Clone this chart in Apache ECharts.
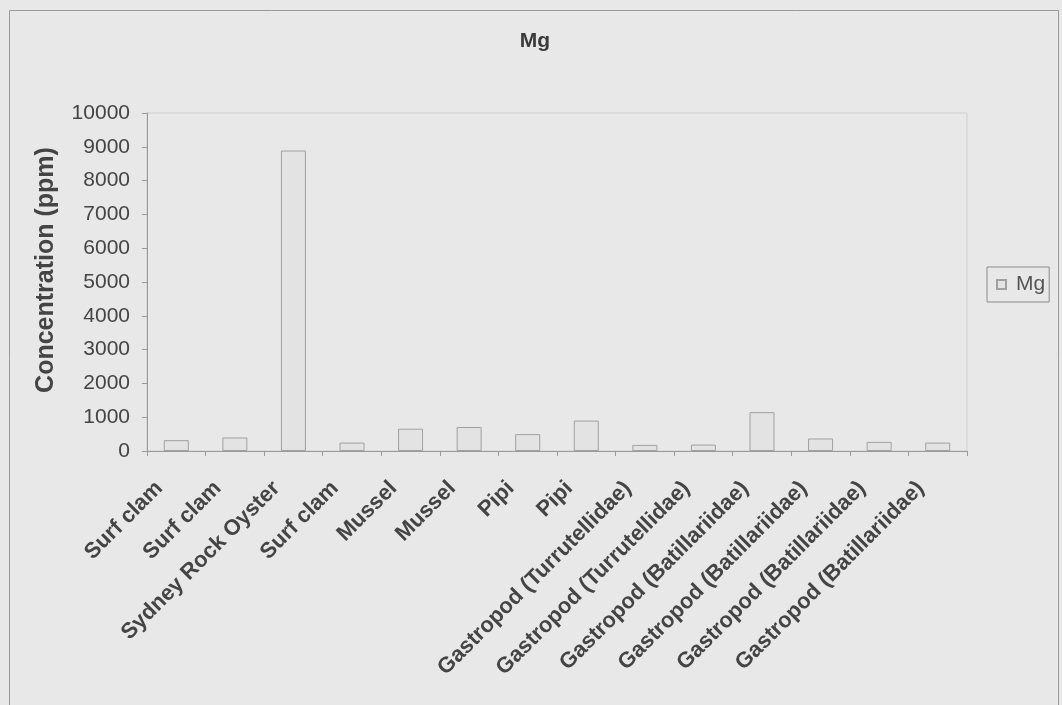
<!DOCTYPE html>
<html>
<head>
<meta charset="utf-8">
<script src="https://cdn.jsdelivr.net/npm/echarts@6/dist/echarts.min.js"></script>
<style>
  html, body { margin: 0; padding: 0; background: #e8e8e8; }
  #chart { width: 1062px; height: 705px; }
</style>
</head>
<body>
<div id="chart"></div>
<script>
// Shell species sampled
const categories = [
  'Surf clam', 'Surf clam', 'Sydney Rock Oyster', 'Surf clam',
  'Mussel', 'Mussel', 'Pipi', 'Pipi',
  'Gastropod (Turrutellidae)', 'Gastropod (Turrutellidae)',
  'Gastropod (Batillariidae)', 'Gastropod (Batillariidae)',
  'Gastropod (Batillariidae)', 'Gastropod (Batillariidae)'
];
// Magnesium concentration, ppm
const mgValues = [320, 400, 8890, 250, 660, 710, 500, 900, 180, 190, 1150, 370, 270, 250];
const seriesName = 'Mg';
const yMin = 0, yMax = 10000, yStep = 1000;

const font = 'Liberation Sans, Arial, sans-serif';
const chart = echarts.init(document.getElementById('chart'), null, { renderer: 'canvas' });

chart.setOption({
  backgroundColor: '#e8e8e8',
  animation: false,
  title: {
    text: 'Mg',
    left: 530, top: 26, textAlign: 'center',
    textStyle: { fontFamily: font, fontSize: 21, fontWeight: 'bold', color: '#3a3a3a' }
  },
  graphic: [
    {
      type: 'rect', left: 7, top: 8, z: -1,
      shape: { width: 1049, height: 705 },
      style: { fill: 'none', stroke: '#9a9a9a', lineWidth: 1 }
    }
  ],
  legend: {
    data: [seriesName],
    left: 987, top: 267,
    padding: [7, 4, 7, 9],
    itemWidth: 9, itemHeight: 9,
    borderColor: '#8a8a8a', borderWidth: 1,
    icon: 'rect',
    textStyle: { fontFamily: font, fontSize: 21, color: '#555', padding: [0, 0, 0, 5] }
  },
  grid: {
    left: 147, right: 95, top: 113, bottom: 254,
    show: true, borderColor: '#cfcfcf', borderWidth: 1, backgroundColor: 'transparent'
  },
  xAxis: {
    type: 'category',
    data: categories,
    axisLine: { lineStyle: { color: '#9a9a9a' } },
    axisTick: { show: true, alignWithLabel: false, length: 5, lineStyle: { color: '#9a9a9a' } },
    axisLabel: {
      rotate: 45, interval: 0, margin: 17,
      padding: [0, 24, 0, 0],
      fontFamily: font, fontSize: 22, fontWeight: 'bold', color: '#444'
    }
  },
  yAxis: {
    type: 'value',
    min: yMin, max: yMax, interval: yStep,
    name: 'Concentration (ppm)',
    nameLocation: 'middle', nameGap: 88,
    nameTextStyle: {
      fontFamily: font, fontSize: 25, fontWeight: 'bold', color: '#444',
      padding: [0, 0, 0, 24]
    },
    axisLine: { show: true, lineStyle: { color: '#9a9a9a' } },
    axisTick: { show: true, length: 5, lineStyle: { color: '#9a9a9a' } },
    splitLine: { show: false },
    axisLabel: {
      fontFamily: font, fontSize: 21, color: '#444', margin: 17,
      formatter: v => String(v)
    }
  },
  series: [{
    name: seriesName,
    type: 'bar',
    data: mgValues,
    barWidth: 25,
    itemStyle: { color: '#e3e3e3', borderColor: '#a0a0a0', borderWidth: 1 }
  }]
});
</script>
</body>
</html>
